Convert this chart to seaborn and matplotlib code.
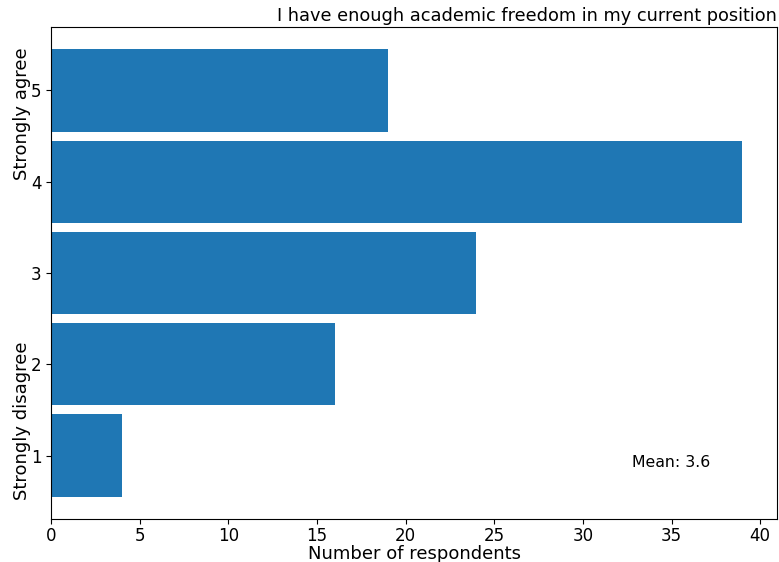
import matplotlib
matplotlib.use("Agg")
import matplotlib.pyplot as plt
import seaborn as sns
import pandas as pd

# survey answers, 1 = strongly disagree ... 5 = strongly agree
levels = [1, 2, 3, 4, 5]
counts = [4, 16, 24, 39, 19]
mean_label = "Mean: 3.6"
title = "I have enough academic freedom in my current position"

df = pd.DataFrame({"level": levels, "count": counts})

fig = plt.figure(figsize=(7.79, 5.62), dpi=100)
ax = fig.add_axes([51 / 779, 1 - 519 / 562, 726 / 779, 492 / 562])

sns.barplot(data=df, x="count", y="level", orient="h", native_scale=True,
            width=0.9, color="#1f77b4", saturation=1, linewidth=0, ax=ax)

ax.set_yticks(levels)
ax.set_yticklabels([str(v) for v in levels])
ax.set_ylim(0.305, 5.695)
ax.set_xlim(0, 40.95)
ax.tick_params(labelsize=12)
ax.tick_params(axis="x", pad=2)
ax.set_xlabel("Number of respondents", fontsize=13, labelpad=0)
ax.set_ylabel("")
ax.set_title(title, loc="right", fontsize=12.8, pad=4)

ax.text(-0.04, 0.823, "Strongly agree", transform=ax.transAxes,
        rotation=90, ha="center", va="center", fontsize=13)
ax.text(-0.04, 0.2, "Strongly disagree", transform=ax.transAxes,
        rotation=90, ha="center", va="center", fontsize=13)
ax.text(0.8, 0.105, mean_label, transform=ax.transAxes, fontsize=11.3)

fig.savefig("out.png", dpi=100)
